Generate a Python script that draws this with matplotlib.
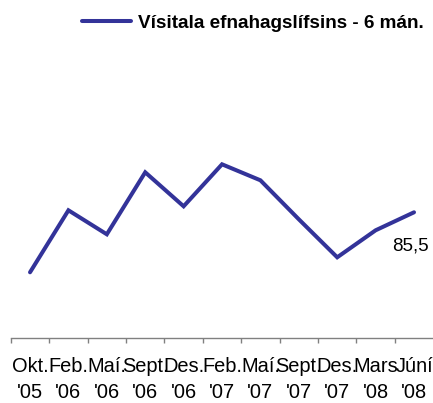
import matplotlib
matplotlib.use("Agg")
import matplotlib.pyplot as plt
from matplotlib.font_manager import fontManager

names = {f.name for f in fontManager.ttflist}
narrow = "Liberation Sans Narrow" if "Liberation Sans Narrow" in names else "Liberation Sans"

months = ["Okt.", "Feb.", "Maí.", "Sept.", "Des.", "Feb.", "Maí.", "Sept.", "Des.", "Mars", "Júní"]
years = ["'05", "'06", "'06", "'06", "'06", "'07", "'07", "'07", "'07", "'08", "'08"]
values = [79.5, 85.7, 83.3, 89.5, 86.1, 90.3, 88.7, 84.8, 81.0, 83.7, 85.5]
series_name = "Vísitala efnahagslífsins - 6 mán."
last_label = "85,5"

color = "#333399"
fig = plt.figure(figsize=(4.33, 4.03), dpi=100)
ax = fig.add_axes([0.025, 0.1613, 0.9755, 0.6898])

x = list(range(len(values)))
line, = ax.plot(x, values, color=color, lw=2.9, solid_capstyle="round", solid_joinstyle="miter")
ax.set_xlim(-0.5, len(values) - 0.5)
ax.set_ylim(72.93, 100.73)

for s in ["left", "right", "top"]:
    ax.spines[s].set_visible(False)
ax.spines["bottom"].set_color("#808080")
ax.spines["bottom"].set_linewidth(1.0)
ax.set_yticks([])

ax.set_xticks([i - 0.5 for i in x])
ax.set_xticklabels([])
ax.tick_params(axis="x", which="major", length=3.6, width=1.0, color="#808080", direction="out")
ax.set_xticks(x, minor=True)
ax.set_xticklabels([f"{m}\n{y}" for m, y in zip(months, years)], minor=True,
                   fontsize=14.4, family=[narrow, "DejaVu Sans"], linespacing=1.45)
ax.tick_params(axis="x", which="minor", length=0, pad=14, colors="black")

ax.annotate(last_label, xy=(x[-1], values[-1]), xytext=(10.8, -27.6), textcoords="offset points",
            ha="right", va="baseline", fontsize=13.5, family="Liberation Sans")

leg = fig.legend([line], [series_name], loc="upper right", bbox_to_anchor=(1.018, 1.006),
                 frameon=False, handlelength=2.6, handletextpad=0.35,
                 prop={"family": "Liberation Sans", "weight": "bold", "size": 13.6})

fig.savefig("out.png", dpi=100)
